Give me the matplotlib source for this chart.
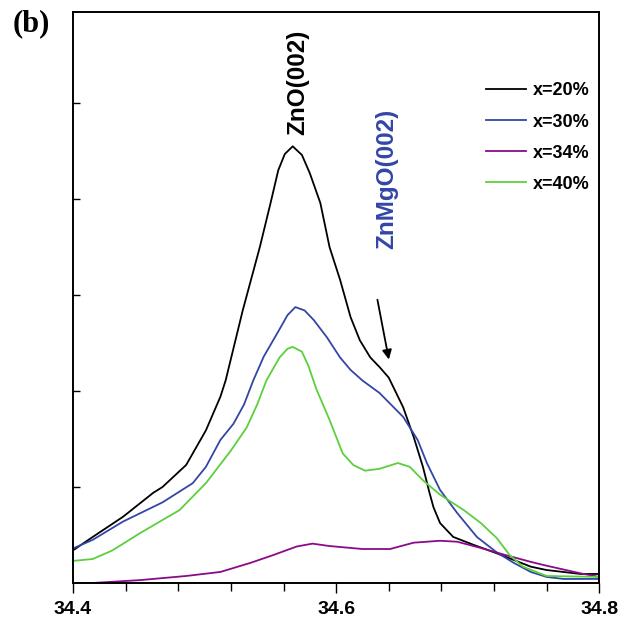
import numpy as np
import matplotlib.pyplot as plt
from matplotlib.ticker import MultipleLocator

# Données (intensité en unités de graduation)
x_20 = [34.400, 34.415, 34.438, 34.461, 34.468, 34.486, 34.501, 34.512, 34.516, 34.529,
        34.542, 34.550, 34.556, 34.561, 34.567, 34.574, 34.580, 34.588, 34.595, 34.603,
        34.611, 34.618, 34.626, 34.633, 34.640, 34.651, 34.659, 34.666, 34.671, 34.674,
        34.679, 34.689, 34.704, 34.722, 34.735, 34.748, 34.760, 34.786, 34.800]
y_20 = [0.34, 0.48, 0.69, 0.94, 1.00, 1.23, 1.59, 1.94, 2.11, 2.84,
        3.50, 3.95, 4.30, 4.47, 4.55, 4.46, 4.27, 3.96, 3.50, 3.16,
        2.77, 2.53, 2.35, 2.25, 2.14, 1.83, 1.52, 1.21, 0.94, 0.79,
        0.625, 0.48, 0.40, 0.31, 0.24, 0.17, 0.135, 0.094, 0.094]

x_30 = [34.400, 34.415, 34.438, 34.468, 34.491, 34.501, 34.512, 34.522, 34.530, 34.537,
        34.545, 34.556, 34.563, 34.569, 34.576, 34.583, 34.593, 34.603, 34.611, 34.620,
        34.633, 34.651, 34.662, 34.669, 34.679, 34.692, 34.707, 34.722, 34.735, 34.748,
        34.760, 34.773, 34.800]
y_30 = [0.36, 0.45, 0.64, 0.84, 1.04, 1.21, 1.49, 1.66, 1.86, 2.11,
        2.36, 2.62, 2.79, 2.875, 2.84, 2.74, 2.56, 2.35, 2.22, 2.11,
        1.98, 1.73, 1.49, 1.25, 0.97, 0.73, 0.48, 0.32, 0.21, 0.115,
        0.063, 0.042, 0.042]

x_34 = [34.400, 34.415, 34.451, 34.486, 34.512, 34.535, 34.552, 34.570, 34.582, 34.595,
        34.620, 34.641, 34.659, 34.679, 34.692, 34.710, 34.729, 34.748, 34.760, 34.786,
        34.800]
y_34 = [0.0, 0.0, 0.03, 0.073, 0.115, 0.21, 0.29, 0.38, 0.41, 0.385,
        0.354, 0.354, 0.42, 0.44, 0.43, 0.365, 0.29, 0.22, 0.18, 0.10,
        0.063]

x_40 = [34.400, 34.415, 34.430, 34.451, 34.481, 34.501, 34.520, 34.532, 34.540, 34.547,
        34.557, 34.563, 34.567, 34.574, 34.579, 34.585, 34.595, 34.605, 34.613, 34.622,
        34.633, 34.647, 34.656, 34.666, 34.679, 34.697, 34.710, 34.722, 34.732, 34.742,
        34.760, 34.800]
y_40 = [0.23, 0.25, 0.34, 0.52, 0.76, 1.04, 1.38, 1.62, 1.86, 2.11,
        2.35, 2.44, 2.46, 2.41, 2.26, 2.02, 1.70, 1.35, 1.23, 1.17,
        1.19, 1.25, 1.21, 1.07, 0.92, 0.76, 0.625, 0.47, 0.29, 0.17,
        0.073, 0.063]

labels = ['x=20%', 'x=30%', 'x=34%', 'x=40%']
couleurs = ['black', '#3346a6', '#8a0a8a', '#5ccf3c']
x_ticks = [34.4, 34.6, 34.8]
y_ticks = [1, 2, 3, 4, 5]

plt.rcParams['font.family'] = ['Liberation Sans', 'DejaVu Sans']
fig = plt.figure(figsize=(6.19, 6.20), dpi=100)
ax = fig.add_axes([0.118, 0.0597, 0.850, 0.921])

for xs, ys, lab, c in zip([x_20, x_30, x_34, x_40], [y_20, y_30, y_34, y_40], labels, couleurs):
    ax.plot(xs, ys, color=c, lw=1.3, label=lab)

ax.set_xlim(34.4, 34.8)
ax.set_ylim(0, 5.95)
ax.set_xticks(x_ticks)
ax.set_xticklabels([str(v) for v in x_ticks], fontsize=14, fontweight='bold')
ax.xaxis.set_minor_locator(MultipleLocator(0.04))
ax.set_yticks(y_ticks)
ax.set_yticklabels([])
ax.tick_params(axis='x', which='major', direction='out', length=7, width=1, pad=6)
ax.tick_params(axis='x', which='minor', direction='out', length=6, width=1)
ax.tick_params(axis='y', direction='in', length=5, width=1)
for s in ax.spines.values():
    s.set_linewidth(1.4)

# Annotations
ax.text(34.5705, 5.22, 'ZnO(002)', rotation=90, ha='center', va='center',
        fontsize=17.5, fontweight='bold', color='black')
ax.text(34.6385, 4.21, 'ZnMgO(002)', rotation=90, ha='center', va='center',
        fontsize=17.5, fontweight='bold', color='#3346a6')
ax.annotate('', xy=(34.6405, 2.3), xytext=(34.631, 2.98),
            arrowprops=dict(arrowstyle='-|>', color='black', lw=1.3, mutation_scale=14))

leg = ax.legend(loc='upper right', bbox_to_anchor=(1.012, 0.905), frameon=False,
                prop={'size': 13, 'weight': 'bold'}, handlelength=2.2,
                labelspacing=0.78, handletextpad=0.35)

fig.text(0.0205, 1 - 9 / 620, '(b)', fontsize=22, fontweight='bold',
         family='Liberation Serif', va='top')

fig.savefig('out.png', dpi=100)
